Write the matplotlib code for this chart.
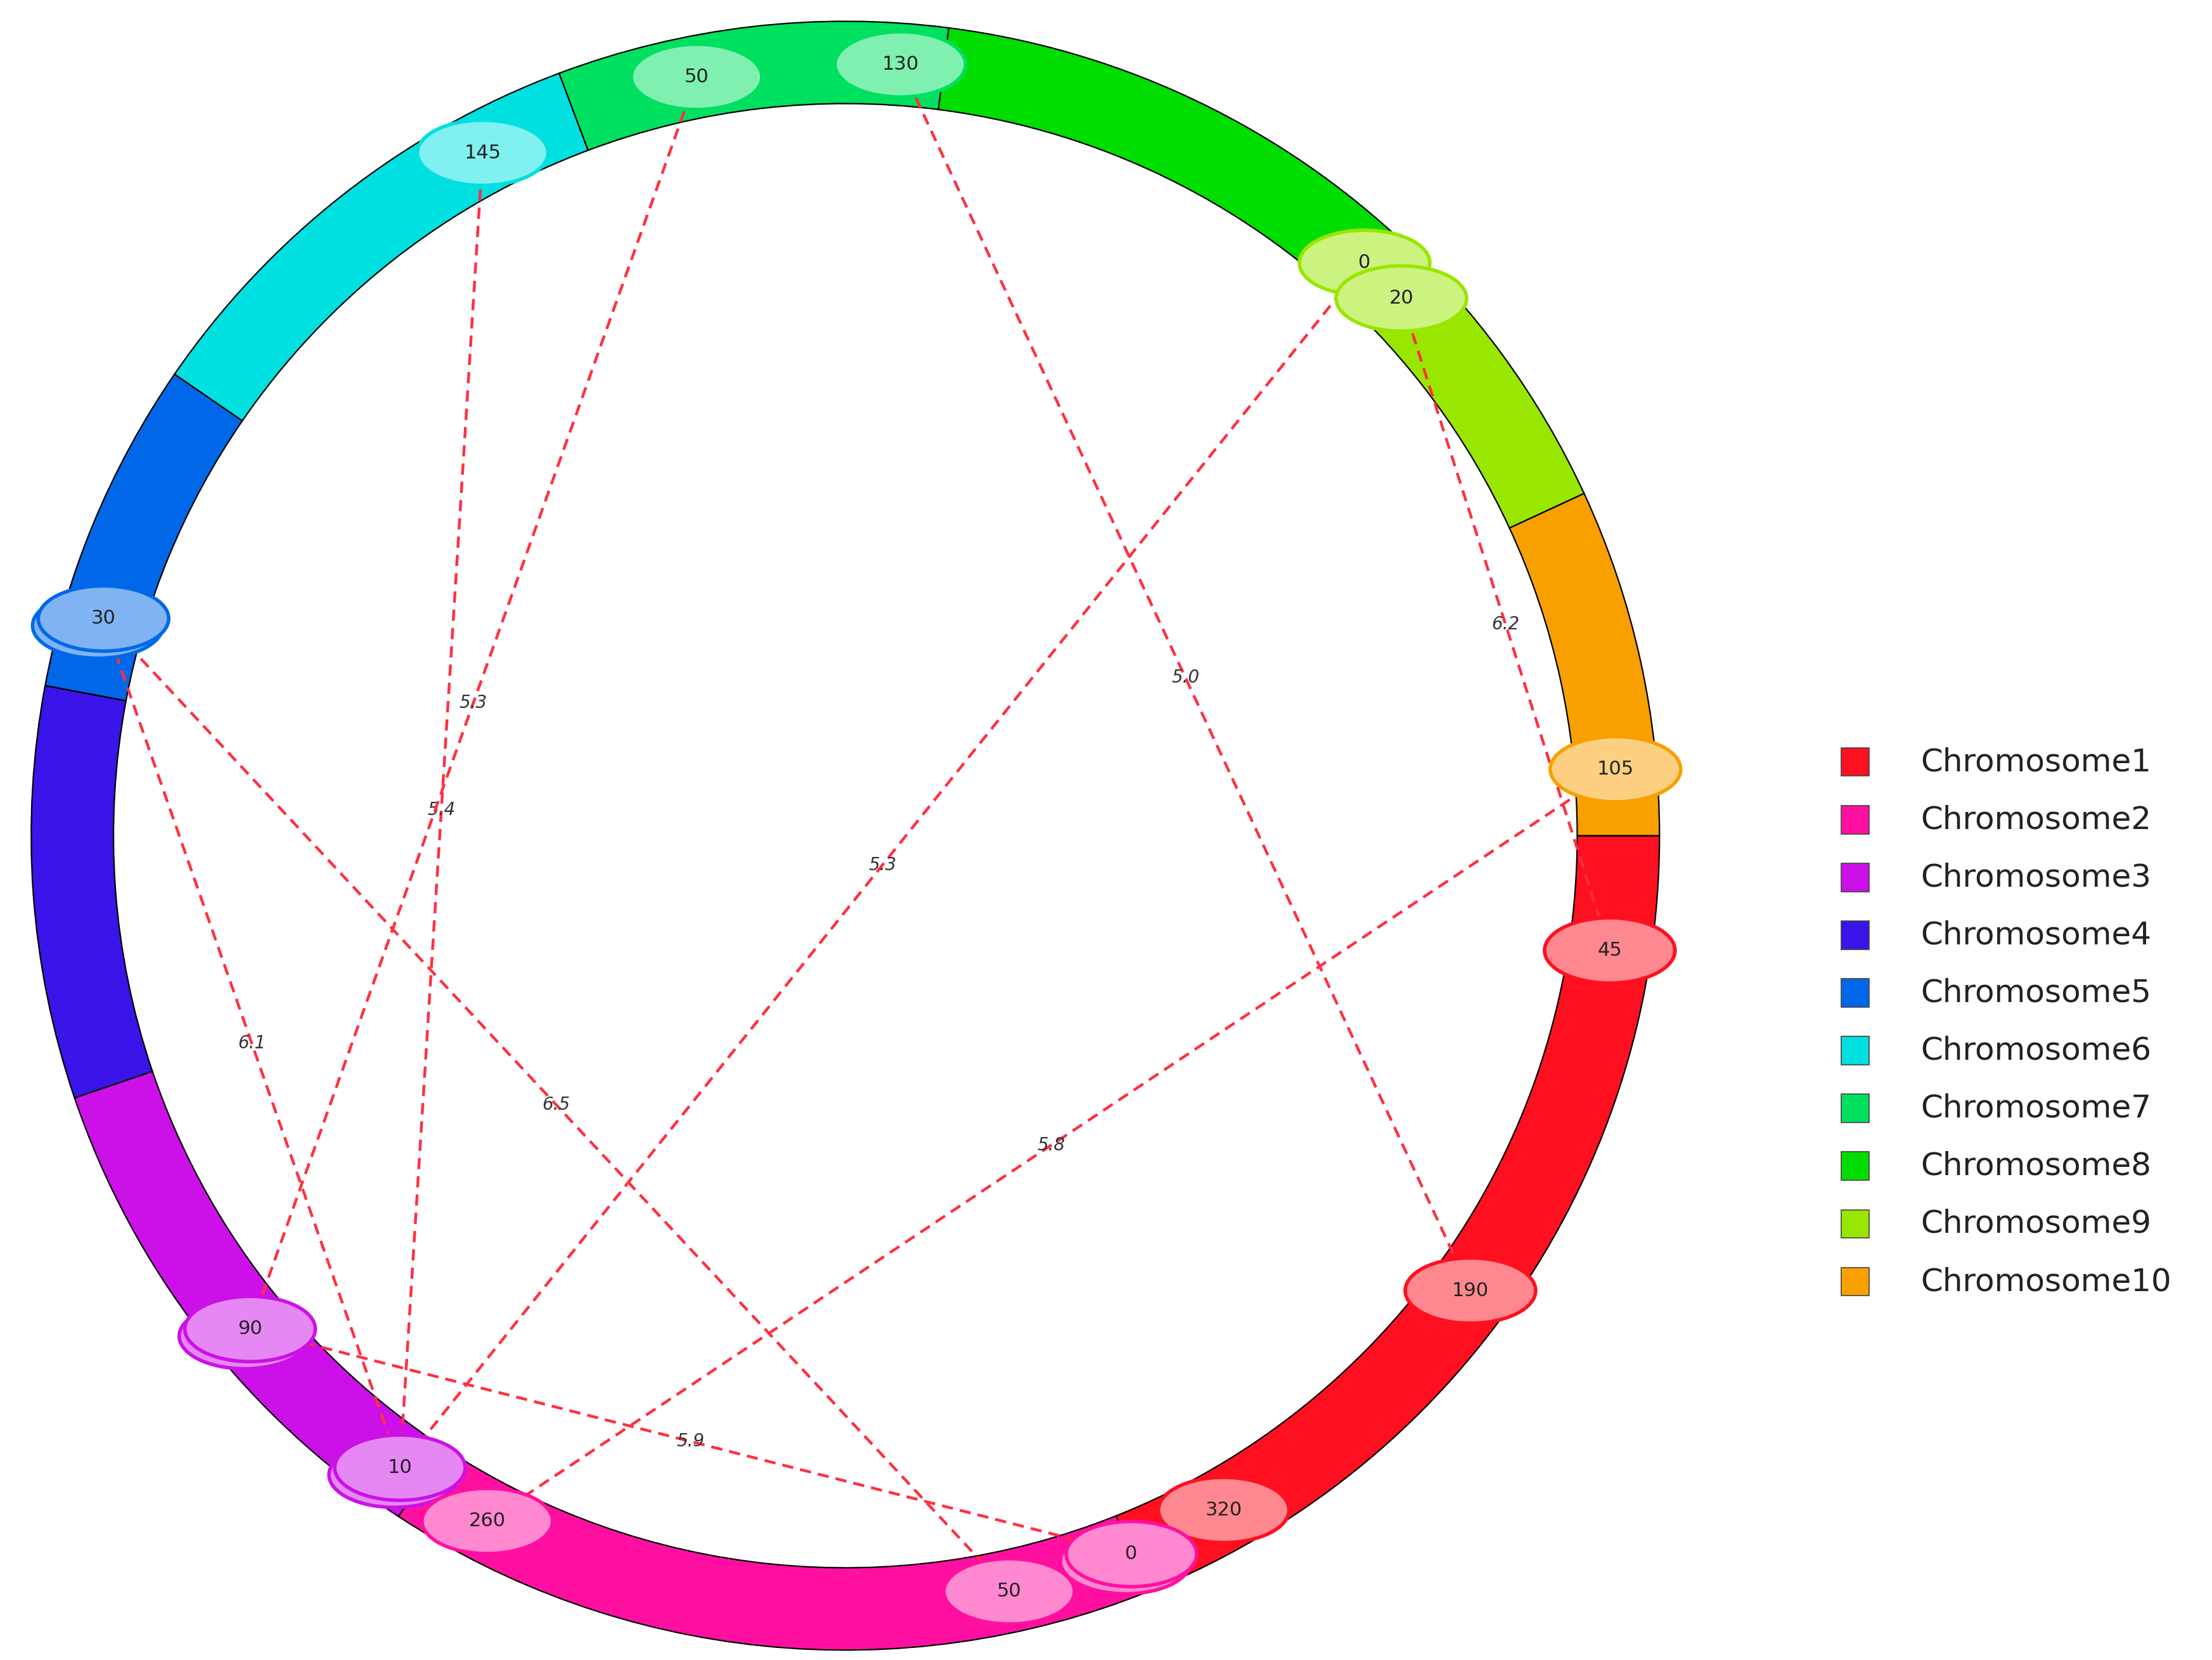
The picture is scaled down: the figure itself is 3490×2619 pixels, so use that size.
import matplotlib
matplotlib.use('Agg')
import matplotlib.pyplot as plt
import matplotlib.patches as mpatches
import matplotlib.colors as mcolors
import numpy as np

# Chromosome lengths (arbitrary units), drawn clockwise starting at 3 o'clock
chroms = ["Chromosome1", "Chromosome2", "Chromosome3", "Chromosome4", "Chromosome5",
          "Chromosome6", "Chromosome7", "Chromosome8", "Chromosome9", "Chromosome10"]
lengths = [360, 290, 200, 155, 126, 184, 147, 184, 121, 131]
colors = ["#FF1020", "#FF10A0", "#CC10E8", "#3A14E8", "#0068E8",
          "#00E0E0", "#00E060", "#00DD00", "#99E600", "#F8A000"]

# Markers: (chromosome index, position)
markers = [(0, 45), (0, 190), (0, 320), (1, 0), (1, 50), (1, 260), (2, 10), (2, 90),
           (4, 30), (5, 145), (6, 50), (6, 130), (8, 0), (8, 20), (9, 105)]

# Links: (marker a, marker b, value)
links = [((5, 145), (2, 10), 5.4), ((6, 50), (2, 90), 5.3), ((6, 130), (0, 190), 5.0),
         ((8, 0), (2, 10), 5.3), ((8, 20), (0, 45), 6.2), ((9, 105), (1, 260), 5.8),
         ((4, 30), (2, 10), 6.1), ((4, 30), (1, 50), 6.5), ((2, 90), (1, 0), 5.9),
         ((1, 0), (0, 320), 5.7)]

CX, CY = 596, 589
R_OUT, WIDTH = 574, 58
R_MID = R_OUT - WIDTH / 2
deg_per = 360.0 / sum(lengths)
starts = 360 - np.concatenate([[0], np.cumsum(lengths)[:-1]]) * deg_per


def pos(ci, p):
    a = np.radians(starts[ci] - p * deg_per)
    return CX + R_MID * np.cos(a), CY - R_MID * np.sin(a)


def lighten(c, f=0.5):
    r = np.array(mcolors.to_rgb(c))
    return tuple(r + (1 - r) * f)


fig = plt.figure(figsize=(17.455, 13.095), dpi=200)
ax = fig.add_axes([0, 0, 1, 1])
ax.set_xlim(0, 1560)
ax.set_ylim(1170, 0)
ax.axis('off')

# ring (y axis is inverted, so angles are mirrored)
for i, (L, c) in enumerate(zip(lengths, colors)):
    t1 = starts[i]
    t2 = starts[i] - L * deg_per
    w = mpatches.Wedge((CX, CY), R_OUT, -t1, -t2, width=WIDTH,
                       facecolor=c, edgecolor='black', lw=0.8, zorder=1)
    ax.add_patch(w)

# links
for a, b, v in links:
    x1, y1 = pos(*a)
    x2, y2 = pos(*b)
    ax.plot([x1, x2], [y1, y2], ls=(0, (4, 2.5)), color="#FF3040", lw=1.6, zorder=2)
    ax.text((x1 + x2) / 2, (y1 + y2) / 2, f"{v:.1f}", fontsize=10, style='italic',
            color="#333333", ha='center', va='center', zorder=2)

# markers
counts = {}
for a, b, v in links:
    counts[a] = counts.get(a, 0) + 1
    counts[b] = counts.get(b, 0) + 1
for ci, p in markers:
    x, y = pos(ci, p)
    c = colors[ci]
    if counts.get((ci, p), 0) > 1:
        ax.add_patch(mpatches.Ellipse((x - 4, y + 5), 92, 46, facecolor=lighten(c),
                                      edgecolor=c, lw=2, zorder=3))
    ax.add_patch(mpatches.Ellipse((x, y), 92, 46, facecolor=lighten(c),
                                  edgecolor=c, lw=2, zorder=4))
    ax.text(x, y, str(p), fontsize=11, ha='center', va='center', color='#222222', zorder=5)

# legend
for i, (name, c) in enumerate(zip(chroms, colors)):
    y = 537 + i * 40.7
    ax.add_patch(mpatches.Rectangle((1298, y - 10), 20, 20, facecolor=c,
                                    edgecolor='#444444', lw=0.6))
    ax.text(1354, y, name, fontsize=18, va='center', ha='left', color='#222222')

fig.savefig("out.png", dpi=200)
